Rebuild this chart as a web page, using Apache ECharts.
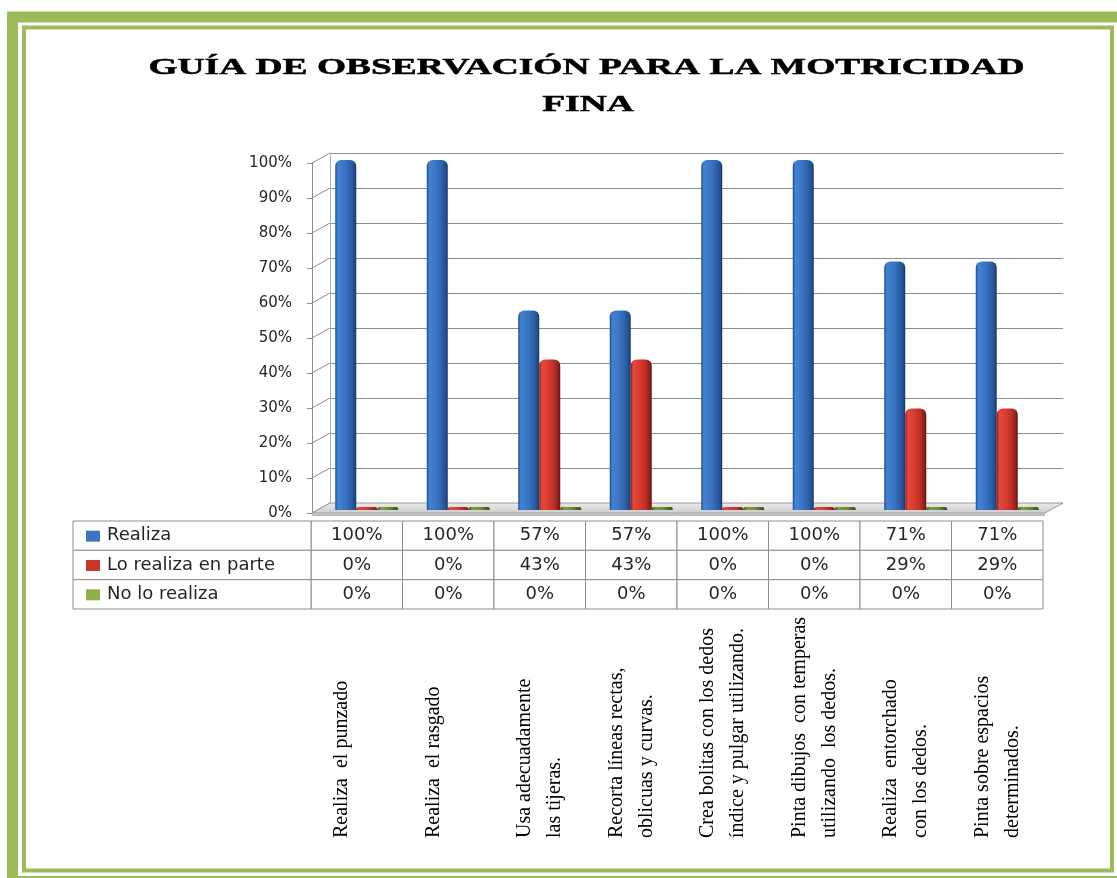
<!DOCTYPE html>
<html>
<head>
<meta charset="utf-8">
<script src="https://cdn.jsdelivr.net/npm/echarts@6/dist/echarts.min.js"></script>
<style>
html,body{margin:0;padding:0;background:#ffffff;}
#chart{width:1117px;height:878px;}
</style>
</head>
<body>
<div id="chart"></div>
<script>
// ---------- DATA ----------
const titleLines = ['GUÍA DE OBSERVACIÓN PARA LA MOTRICIDAD', 'FINA'];
const categories = [
  'Realiza  el punzado',
  'Realiza  el rasgado',
  'Usa adecuadamente\nlas tijeras.',
  'Recorta líneas rectas,\noblicuas y curvas.',
  'Crea bolitas con los dedos\níndice y pulgar utilizando.',
  'Pinta dibujos  con temperas\nutilizando  los dedos.',
  'Realiza  entorchado\ncon los dedos.',
  'Pinta sobre espacios\ndeterminados.'
];
const seriesNames = ['Realiza', 'Lo realiza en parte', 'No lo realiza'];
const realiza = [100, 100, 57, 57, 100, 100, 71, 71];
const loRealizaEnParte = [0, 0, 43, 43, 0, 0, 29, 29];
const noLoRealiza = [0, 0, 0, 0, 0, 0, 0, 0];
const yTicks = [0, 10, 20, 30, 40, 50, 60, 70, 80, 90, 100];

// ---------- STYLE / LAYOUT ----------
const DX = 18, DY = 10;           // 3D depth offset
const HEADER_W = 238;             // width of the table's first column
const GREEN = '#9bbb59';
const gridLine = '#8c8c8c';
function grad(stops) {
  return { type: 'linear', x: 0, y: 0, x2: 1, y2: 0,
    colorStops: stops.map(s => ({ offset: s[0], color: s[1] })) };
}
const barColors = [
  grad([[0, '#1f4a85'], [0.12, '#4282d6'], [0.45, '#3a75c4'], [0.72, '#2e62aa'], [0.9, '#234f8e'], [1, '#163563']]),
  grad([[0, '#8a1c17'], [0.12, '#e6483d'], [0.45, '#d63b30'], [0.72, '#ba2e25'], [0.9, '#8f1f1a'], [1, '#5e1210']]),
  grad([[0, '#3f5a18'], [0.2, '#7f9f3e'], [0.6, '#6b8a2e'], [1, '#34491a']])
];
const legendColors = ['#3c74c0', '#c7362d', '#8db04a'];

const tableRows = [realiza, loRealizaEnParte, noLoRealiza];
const tableData = [];
tableRows.forEach((row, r) => row.forEach((v, c) => tableData.push([c, r, v])));

const chart = echarts.init(document.getElementById('chart'), null, { renderer: 'canvas' });

const frontGrid = { left: 312, top: 163, width: 733, height: 350, outerBoundsMode: 'none' };
const backGrid  = { left: 312 + DX, top: 163 - DY, width: 733, height: 350, outerBoundsMode: 'none' };
const barGrid   = { left: 321, top: 160, width: 732, height: 350, outerBoundsMode: 'none' };
const tableGrid = { left: 311, top: 521, width: 732, height: 88, outerBoundsMode: 'none' };

const option = {
  animation: false,
  backgroundColor: '#ffffff',
  graphic: [
    { type: 'rect', shape: { x: 12.5, y: 17, width: 1110, height: 864.5 },
      style: { fill: 'none', stroke: GREEN, lineWidth: 11 }, silent: true },
    { type: 'rect', shape: { x: 24, y: 27.5, width: 1088, height: 843 },
      style: { fill: 'none', stroke: GREEN, lineWidth: 4 }, silent: true },
    { type: 'text', x: 586.5, y: 68, scaleX: 1.56, silent: true,
      style: { text: titleLines[0], font: 'bold 24px "Liberation Serif"', fill: '#000',
        stroke: '#000', lineWidth: 0.5,
        align: 'center', verticalAlign: 'middle', textAlign: 'center', textVerticalAlign: 'middle' } },
    { type: 'text', x: 588, y: 105, scaleX: 1.56, silent: true,
      style: { text: titleLines[1], font: 'bold 24px "Liberation Serif"', fill: '#000',
        stroke: '#000', lineWidth: 0.5,
        align: 'center', verticalAlign: 'middle', textAlign: 'center', textVerticalAlign: 'middle' } }
  ],
  grid: [frontGrid, backGrid, barGrid, tableGrid],
  xAxis: [
    { gridIndex: 0, type: 'category', data: categories, show: false },
    { gridIndex: 1, type: 'category', data: categories, show: false },
    { gridIndex: 2, type: 'category', data: categories, show: false },
    { gridIndex: 3, type: 'category', data: categories, position: 'bottom',
      axisLine: { show: false }, axisTick: { show: false }, splitLine: { show: false },
      axisLabel: {
        interval: 0, rotate: 90, align: 'left', verticalAlign: 'middle', margin: 229,
        fontFamily: '"Liberation Serif", "Times New Roman", serif', fontSize: 20, lineHeight: 30,
        color: '#000',
        formatter: v => (v.indexOf('\n') >= 0 ? v : v + '\n ')
      } }
  ],
  yAxis: [
    { gridIndex: 0, type: 'value', min: 0, max: 100, interval: 10,
      axisLine: { show: true, lineStyle: { color: gridLine } },
      axisTick: { show: true, length: 5, lineStyle: { color: gridLine } },
      splitLine: { show: false },
      axisLabel: { formatter: '{value}%', margin: 20, fontFamily: '"DejaVu Sans", Verdana, sans-serif',
        fontSize: 15, color: '#262626' } },
    { gridIndex: 1, type: 'value', min: 0, max: 100, interval: 10,
      axisLine: { show: true, lineStyle: { color: '#b0b0b0' } },
      axisTick: { show: false }, axisLabel: { show: false },
      splitLine: { show: true, lineStyle: { color: gridLine, width: 1.2 } } },
    { gridIndex: 2, type: 'value', min: 0, max: 100, interval: 10, show: false, splitLine: { show: false } },
    { gridIndex: 3, type: 'category', data: seriesNames, inverse: true, show: false }
  ],
  series: [
    // side wall lines
    { type: 'custom', xAxisIndex: 0, yAxisIndex: 0, z: 1, silent: true,
      data: yTicks.map(v => [0, v]),
      renderItem(params, api) {
        const y = api.coord([0, api.value(1)])[1];
        const x = params.coordSys.x;
        return { type: 'line', shape: { x1: x, y1: y, x2: x + DX, y2: y - DY },
          style: { stroke: gridLine, lineWidth: 1 } };
      } },
    // floor
    { type: 'custom', xAxisIndex: 0, yAxisIndex: 0, z: 1, silent: true,
      data: [[0, 0]],
      renderItem(params, api) {
        const cs = params.coordSys;
        const y0 = api.coord([0, 0])[1];
        const xL = cs.x, xR = cs.x + cs.width;
        return { type: 'group', children: [
          { type: 'polygon', shape: { points: [[xL, y0], [xR, y0], [xR + DX, y0 - DY], [xL + DX, y0 - DY]] },
            style: { fill: { type: 'linear', x: 0, y: 0, x2: 0, y2: 1,
              colorStops: [{ offset: 0, color: '#ececec' }, { offset: 1, color: '#cccccc' }] },
              stroke: '#9a9a9a', lineWidth: 1 } },
          { type: 'rect', shape: { x: xL, y: y0, width: cs.width, height: 3 },
            style: { fill: '#bdbdbd' } }
        ] };
      } },
    // bars
    { name: seriesNames[0], type: 'bar', xAxisIndex: 2, yAxisIndex: 2, data: realiza, z: 3,
      barWidth: 21, barGap: '0%', barMinHeight: 3,
      itemStyle: { color: barColors[0], borderRadius: [6, 6, 0, 0] } },
    { name: seriesNames[1], type: 'bar', xAxisIndex: 2, yAxisIndex: 2, data: loRealizaEnParte, z: 3,
      barWidth: 21, barGap: '0%', barMinHeight: 3,
      itemStyle: { color: barColors[1], borderRadius: [6, 6, 0, 0] } },
    { name: seriesNames[2], type: 'bar', xAxisIndex: 2, yAxisIndex: 2, data: noLoRealiza, z: 3,
      barWidth: 21, barGap: '0%', barMinHeight: 3,
      itemStyle: { color: barColors[2], borderRadius: [2, 2, 0, 0] } },
    // data table
    { type: 'custom', xAxisIndex: 3, yAxisIndex: 3, z: 3, silent: true,
      data: tableData,
      renderItem(params, api) {
        const c = api.value(0), r = api.value(1), v = api.value(2);
        const p = api.coord([c, r]);
        const s = api.size([1, 1]);
        const x0 = p[0] - s[0] / 2, y0 = p[1] - s[1] / 2;
        const txt = { font: '18px "DejaVu Sans", Verdana, sans-serif', fill: '#262626',
          verticalAlign: 'middle', textVerticalAlign: 'middle' };
        const children = [
          { type: 'rect', shape: { x: x0, y: y0, width: s[0], height: s[1] },
            style: { fill: '#fff', stroke: gridLine, lineWidth: 1 } },
          { type: 'text', x: p[0], y: p[1],
            style: Object.assign({ text: v + '%', align: 'center', textAlign: 'center' }, txt) }
        ];
        if (c === 0) {
          const hx = params.coordSys.x - HEADER_W;
          children.push(
            { type: 'rect', shape: { x: hx, y: y0, width: HEADER_W, height: s[1] },
              style: { fill: '#fff', stroke: gridLine, lineWidth: 1 } },
            { type: 'rect', shape: { x: hx + 13, y: p[1] - 5, width: 14, height: 11 },
              style: { fill: legendColors[r] } },
            { type: 'text', x: hx + 34, y: p[1],
              style: Object.assign({ text: seriesNames[r], align: 'left', textAlign: 'left' }, txt) }
          );
        }
        return { type: 'group', children };
      } }
  ]
};
chart.setOption(option);
</script>
</body>
</html>
